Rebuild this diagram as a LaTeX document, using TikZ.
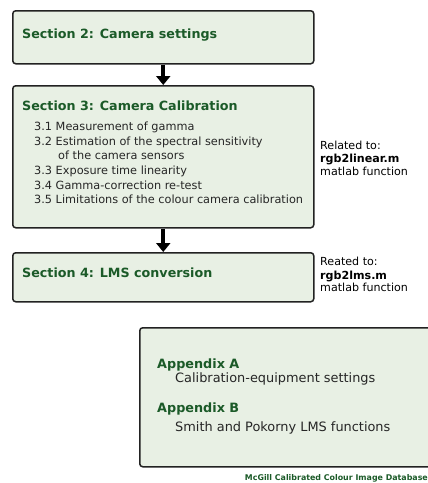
\documentclass[tikz,border=0pt]{standalone}
\usepackage{fontspec}
\setmainfont{DejaVu Sans}
\usetikzlibrary{arrows.meta}
\definecolor{boxfill}{HTML}{E8F0E4}
\definecolor{titlegreen}{HTML}{1B5A28}
\definecolor{edge}{HTML}{222222}
\begin{document}
\begin{tikzpicture}[x=1pt,y=-1pt,
  secbox/.style={draw=edge,line width=1.5pt,fill=boxfill,rounded corners=3pt},
  title/.style={anchor=mid west,inner sep=0pt,font=\fontsize{12.7}{14}\selectfont\bfseries,text=titlegreen},
  item/.style={anchor=mid west,inner sep=0pt,font=\fontsize{11.3}{13}\selectfont,text=black!85},
  side/.style={anchor=mid west,inner sep=0pt,font=\fontsize{11.1}{13}\selectfont,text=black},
  app/.style={anchor=mid west,inner sep=0pt,font=\fontsize{12.8}{14}\selectfont\bfseries,text=titlegreen},
  appitem/.style={anchor=mid west,inner sep=0pt,font=\fontsize{12.9}{14}\selectfont,text=black!85},
  flow/.style={line width=4pt,-{Triangle[width=14pt,length=9pt]},black}]
\useasboundingbox (0,0) rectangle (428,483);
\fill[white] (0,0) rectangle (428,483);
% boxes
\node[secbox,minimum width=301pt,minimum height=53pt,anchor=north west] (b1) at (12,10) {};
\node[secbox,minimum width=301pt,minimum height=142pt,anchor=north west] (b2) at (12,85) {};
\node[secbox,minimum width=301pt,minimum height=49pt,anchor=north west] (b3) at (12,252) {};
\begin{scope}
\clip (0,0) rectangle (428,483);
\node[secbox,minimum width=292pt,minimum height=139pt,anchor=north west] (b4) at (139,327) {};
\end{scope}
% arrows
\draw[flow] (b1.south) -- (b2.north);
\draw[flow] (b2.south) -- (b3.north);
% titles
\node[title] (t1) at (22,36) {Section 2: Camera settings};
\node[title] (t2) at (22,108) {Section 3: Camera Calibration};
\node[title] (t3) at (22,275) {Section 4: LMS conversion};
% items
\node[item] (i1) at (34,128) {3.1 Measurement of gamma};
\node[item] (i2) at (34,143) {3.2 Estimation of the spectral sensitivity};
\node[item] (i2b) at (58,157) {of the camera sensors};
\node[item] (i3) at (34,172) {3.3 Exposure time linearity};
\node[item] (i4) at (34,187) {3.4 Gamma-correction re-test};
\node[item] (i5) at (34,201) {3.5 Limitations of the colour camera calibration};
% side notes
\node[side] (r1) at (320,147) {Related to:};
\node[side,font=\fontsize{11.1}{13}\selectfont\bfseries] (r2) at (320,160) {rgb2linear.m};
\node[side] (r3) at (320,173) {matlab function};
\node[side] (s1) at (320,263) {Reated to:};
\node[side,font=\fontsize{11.1}{13}\selectfont\bfseries] (s2) at (320,277) {rgb2lms.m};
\node[side] (s3) at (320,289) {matlab function};
% appendix
\node[app] (a1) at (157,366) {Appendix A};
\node[appitem] (a2) at (175,380) {Calibration-equipment settings};
\node[app] (a3) at (157,410) {Appendix B};
\node[appitem] (a4) at (175,429) {Smith and Pokorny LMS functions};
% footer
\node[anchor=mid east,inner sep=0pt,font=\fontsize{7.9}{9}\selectfont\bfseries,text=titlegreen] (f) at (428,478) {McGill Calibrated Colour Image Database};
\end{tikzpicture}
\end{document}
